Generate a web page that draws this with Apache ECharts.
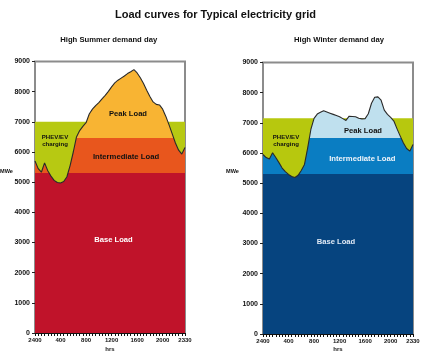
<!DOCTYPE html>
<html><head><meta charset="utf-8">
<script src="https://cdn.jsdelivr.net/npm/echarts@6/dist/echarts.min.js"></script>
<style>html,body{margin:0;padding:0;background:#fff}#c{width:431px;height:361px}</style>
</head><body><div id="c"></div>
<script>
// Half-hour slots of the day
const hours = ['2400','030','100','130','200','230','300','330','400','430','500','530','600','630','700','730',
  '800','830','900','930','1000','1030','1100','1130','1200','1230','1300','1330','1400','1430','1500','1530',
  '1600','1630','1700','1730','1800','1830','1900','1930','2000','2030','2100','2130','2200','2230','2300','2330'];
const tickLabels = ['2400','400','800','1200','1600','2000','2330'];

// Demand curves (MWe)
const summerDemand = [5700,5450,5330,5640,5380,5200,5060,4990,4975,5020,5180,5550,6000,6500,6710,6850,
  6970,7260,7420,7540,7640,7760,7880,8010,8160,8290,8380,8450,8520,8600,8660,8730,
  8620,8460,8270,8050,7840,7660,7580,7560,7420,7180,6900,6600,6300,6060,5930,6150];
const winterDemand = [5950,5850,5800,6010,5850,5680,5500,5380,5290,5220,5190,5260,5420,5620,6170,6780,
  7150,7290,7350,7400,7360,7320,7280,7240,7200,7140,7080,7220,7210,7200,7150,7130,
  7140,7300,7650,7850,7860,7750,7420,7280,7180,7060,6800,6560,6330,6150,6060,6280];

// Layer boundaries (MWe)
const summerBaseTop = 5290, summerIntermediateTop = 6450, summerPhevTop = 7000;
const winterBaseTop = 5310, winterIntermediateTop = 6490, winterPhevTop = 7150;

const C = {
  sBase:'#c0132a', sInter:'#e8561d', sPeak:'#f8b433', sPhev:'#b7c912',
  wBase:'#06447f', wInter:'#0a7dc2', wPeak:'#bfe0ee', wPhev:'#b7c80e'
};
const FONT = 'Liberation Sans, Arial, Helvetica, sans-serif';

const chart = echarts.init(document.getElementById('c'), null, {renderer:'canvas'});

function xAxis(gridIndex){
  return {
    type:'category', gridIndex, data:hours, boundaryGap:false,
    axisLine:{show:true, lineStyle:{color:'#111', width:1}},
    axisTick:{show:true, interval:0, length:3, lineStyle:{color:'#111', width:1}},
    axisLabel:{interval:(i,v)=>tickLabels.includes(v), fontSize:6, fontWeight:'bold', color:'#111', margin:4, fontFamily:FONT},
    splitLine:{show:false}
  };
}
function yAxis(gridIndex){
  return {
    type:'value', gridIndex, min:0, max:9000, interval:1000,
    axisLine:{show:false},
    axisTick:{show:true, length:3, lineStyle:{color:'#222', width:1}},
    axisLabel:{fontSize:7, fontWeight:'bold', color:'#111', margin:5, fontFamily:FONT, formatter:v=>String(v)},
    splitLine:{show:false}
  };
}
function capSeries(idx, cap, color){
  return {type:'line', xAxisIndex:idx, yAxisIndex:idx, data:[[hours[0],cap],[hours[hours.length-1],cap]],
    showSymbol:false, lineStyle:{width:0}, areaStyle:{color, opacity:1}, silent:true, z:2};
}
function demandArea(idx, data){
  return {type:'line', xAxisIndex:idx, yAxisIndex:idx, data, showSymbol:false,
    lineStyle:{width:0}, areaStyle:{opacity:1}, silent:true, z:3};
}
function outline(idx, data){
  return {type:'line', xAxisIndex:idx, yAxisIndex:idx, data, showSymbol:false,
    lineStyle:{color:'#2a2a2a', width:1.1}, silent:true, z:4};
}
function txt(x, y, text, size, color){
  return {type:'text', x, y, z:100, style:{text, fontSize:size, fontWeight:'bold', fill:color||'#111',
    fontFamily:FONT, align:'center', verticalAlign:'middle', lineHeight:size+1}};
}

chart.setOption({
  animation:false,
  backgroundColor:'#fff',
  grid:[
    {left:35, right:246, top:61.5, bottom:28, show:true, backgroundColor:'#fff', borderColor:'#8c8c8c', borderWidth:2},
    {left:263, right:18, top:62.5, bottom:27, show:true, backgroundColor:'#fff', borderColor:'#8c8c8c', borderWidth:2}
  ],
  xAxis:[xAxis(0), xAxis(1)],
  yAxis:[yAxis(0), yAxis(1)],
  visualMap:[
    {type:'piecewise', show:false, seriesIndex:1, dimension:1, pieces:[
      {lt:summerBaseTop, color:C.sBase},
      {gte:summerBaseTop, lt:summerIntermediateTop, color:C.sInter},
      {gte:summerIntermediateTop, color:C.sPeak}]},
    {type:'piecewise', show:false, seriesIndex:4, dimension:1, pieces:[
      {lt:winterBaseTop, color:C.wBase},
      {gte:winterBaseTop, lt:winterIntermediateTop, color:C.wInter},
      {gte:winterIntermediateTop, color:C.wPeak}]}
  ],
  series:[
    capSeries(0, summerPhevTop, C.sPhev),
    demandArea(0, summerDemand),
    outline(0, summerDemand),
    capSeries(1, winterPhevTop, C.wPhev),
    demandArea(1, winterDemand),
    outline(1, winterDemand)
  ],
  graphic:[
    txt(215.5, 15, 'Load curves for Typical electricity grid', 11),
    txt(108.7, 40, 'High Summer demand day', 7.7),
    txt(339, 40, 'High Winter demand day', 7.7),
    txt(6.5, 171.7, 'MWe', 5.6),
    txt(232.5, 171.7, 'MWe', 5.6),
    txt(110, 349.5, 'hrs', 6),
    txt(338, 349.5, 'hrs', 6),
    txt(128, 114, 'Peak Load', 7.6),
    txt(126, 157, 'Intermediate Load', 7.7),
    txt(55, 140.5, 'PHEV/EV\ncharging', 6.1),
    txt(113.5, 240, 'Base Load', 7.6, '#ffffff'),
    txt(363, 131, 'Peak Load', 7.6),
    txt(362.3, 158.7, 'Intermediate Load', 7.7, '#eef4fa'),
    txt(286, 140.5, 'PHEV/EV\ncharging', 6.1),
    txt(336, 241.7, 'Base Load', 7.6, '#dfe9f5')
  ]
});
</script></body></html>
